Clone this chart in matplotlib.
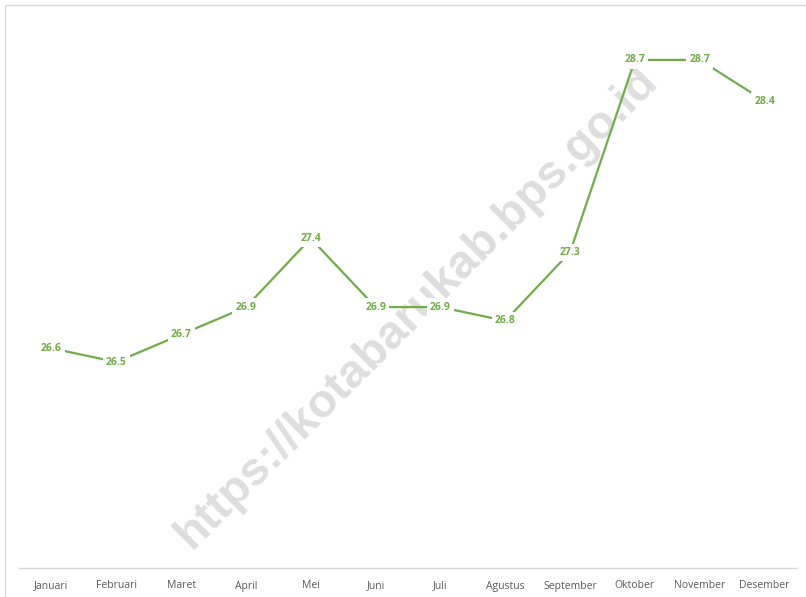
import matplotlib.pyplot as plt
from matplotlib.patches import Rectangle

bulan = ['Januari', 'Februari', 'Maret', 'April', 'Mei', 'Juni', 'Juli',
         'Agustus', 'September', 'Oktober', 'November', 'Desember']
suhu = [26.6, 26.5, 26.7, 26.9, 27.4, 26.9, 26.9, 26.8, 27.3, 28.7, 28.7, 28.4]

W, H = 806, 597
fig = plt.figure(figsize=(W / 100, H / 100), dpi=100)
plt.rcParams['font.family'] = ['Open Sans', 'DejaVu Sans']

# chart border
fig.patches.append(Rectangle((4.5 / W, -0.1), 1.2, 1 - 4.5 / H + 0.1,
                             transform=fig.transFigure, fill=False,
                             edgecolor='#d9d9d9', lw=1))

ax = fig.add_axes([19 / W, 1 - 568 / H, (797 - 19) / W, (568 - 18.7) / H])
ax.patch.set_alpha(0)
ax.set_zorder(2)
x = list(range(len(bulan)))
ax.plot(x, suhu, color='#70ad47', lw=1.6, zorder=2)
for xi, v in zip(x, suhu):
    ax.text(xi, v, f'{v:.1f}', ha='center', va='center', fontsize=7.5,
            fontweight='bold', color='#70ad47', zorder=3,
            bbox=dict(boxstyle='square,pad=0.3', fc='white', ec='none'))

ax.set_xlim(-0.5, len(bulan) - 0.5)
ax.set_ylim(25, 29)
ax.set_xticks(x)
ax.set_xticklabels(bulan, fontsize=7.5, color='#595959')
ax.tick_params(axis='x', length=0, pad=9)
ax.set_yticks([])
for s in ['left', 'right', 'top']:
    ax.spines[s].set_visible(False)
ax.spines['bottom'].set_color('#d9d9d9')
ax.spines['bottom'].set_linewidth(1)

# watermark, behind the line
fig.text(417 / W, 1 - 308 / H, 'https://kotabarukab.bps.go.id', rotation=45,
         ha='center', va='center', fontsize=34, fontweight='bold',
         color='#dedede', family='Liberation Sans', zorder=1)

fig.savefig('out.png', dpi=100)
